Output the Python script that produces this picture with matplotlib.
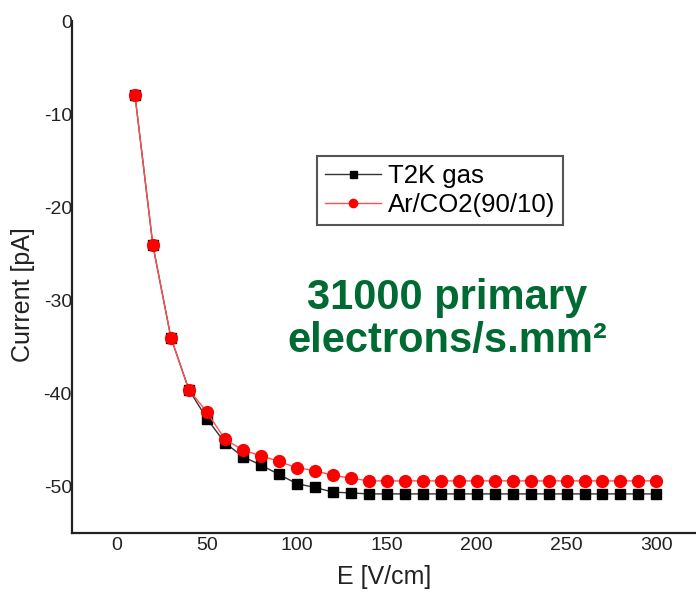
import matplotlib
matplotlib.use('Agg')
import matplotlib.pyplot as plt
import numpy as np

plt.rcParams['font.family'] = ['Liberation Sans', 'DejaVu Sans']
plt.rcParams['axes.unicode_minus'] = False

# field values [V/cm]
e_field = [10, 20, 30, 40, 50, 60, 70, 80, 90, 100, 110, 120, 130, 140, 150,
           160, 170, 180, 190, 200, 210, 220, 230, 240, 250, 260, 270, 280, 290, 300]

# currents [pA]
t2k_current = [-7.9, -24.1, -34.0, -39.6, -42.7, -45.3, -46.8, -47.7, -48.7, -49.7,
               -50.1, -50.6, -50.7, -50.8, -50.8, -50.8, -50.8, -50.8, -50.8, -50.8,
               -50.8, -50.8, -50.8, -50.8, -50.8, -50.8, -50.8, -50.8, -50.8, -50.8]
arco2_current = [-7.9, -24.1, -34.0, -39.6, -42.0, -44.9, -46.1, -46.7, -47.3, -48.0,
                 -48.3, -48.8, -49.1, -49.4, -49.4, -49.4, -49.4, -49.4, -49.4, -49.4,
                 -49.4, -49.4, -49.4, -49.4, -49.4, -49.4, -49.4, -49.4, -49.4, -49.4]

x_ticks = [0, 50, 100, 150, 200, 250, 300]
y_ticks = [0, -10, -20, -30, -40, -50]

fig = plt.figure(figsize=(6.96, 5.97), dpi=100)
ax = fig.add_axes([0.1034, 0.1072, 0.8966, 0.8576])

ax.plot(e_field, t2k_current, color='#333333', linewidth=1.0,
        marker='s', markersize=7.2, markerfacecolor='black',
        markeredgecolor='black', label='T2K gas', zorder=3)
ax.plot(e_field, arco2_current, color='#ff5050', linewidth=1.0,
        marker='o', markersize=8.5, markerfacecolor='#ff0000',
        markeredgecolor='#ff0000', label='Ar/CO2(90/10)', zorder=4)

ax.set_xlim(-25, 322)
ax.set_ylim(-55, 0)
ax.set_xticks(x_ticks)
ax.set_yticks(y_ticks)
ax.tick_params(axis='both', length=0, labelsize=14, colors='#222222')
ax.tick_params(axis='x', pad=3)
ax.tick_params(axis='y', pad=0)

for side in ['top', 'right']:
    ax.spines[side].set_visible(False)
for side in ['left', 'bottom']:
    ax.spines[side].set_linewidth(1.6)
    ax.spines[side].set_color('#222222')

ax.set_xlabel('E [V/cm]', fontsize=18, color='#222222')
ax.set_ylabel('Current [pA]', fontsize=18, color='#222222')
ax.xaxis.set_label_coords(0.5, -0.062)
ax.yaxis.set_label_coords(-0.059, 0.465)

leg = ax.legend(loc='upper left', bbox_to_anchor=(0.393, 0.736), borderaxespad=0,
                fontsize=18.5, fancybox=False, framealpha=1, edgecolor='#555555',
                handlelength=2.2, handletextpad=0.25, labelspacing=0.2,
                borderpad=0.3, markerscale=0.7)
leg.get_frame().set_linewidth(1.5)

fig.text(0.642, 0.465, '31000 primary\nelectrons/s.mm²', color='#006a33',
         fontsize=30, fontweight='bold', ha='center', va='center',
         multialignment='center', linespacing=1.08)

fig.savefig('out.png', dpi=100)
